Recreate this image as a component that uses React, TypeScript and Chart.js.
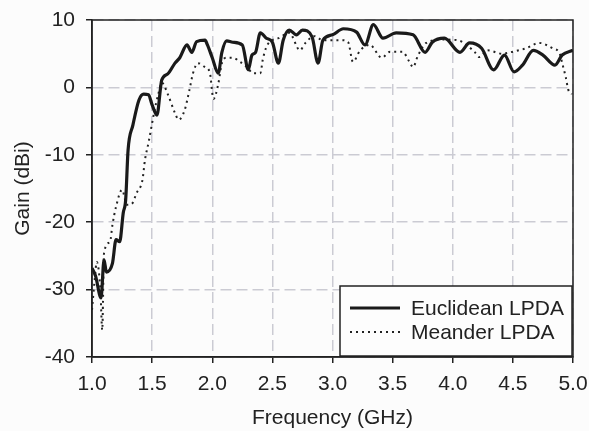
import React, { useEffect, useRef } from 'react';
import { Chart, registerables } from 'chart.js';

Chart.register(...registerables);

// Euclidean LPDA (solid)
const euclidFreq = [
  1.0, 1.03, 1.075, 1.1, 1.12, 1.17, 1.2, 1.23, 1.26, 1.28, 1.3, 1.34, 1.39, 1.43, 1.47, 1.5, 1.54,
  1.58, 1.63, 1.69, 1.73, 1.79, 1.83, 1.87, 1.94, 1.96, 2.0, 2.05, 2.08, 2.12, 2.17, 2.25, 2.3,
  2.33, 2.36, 2.4, 2.45, 2.5, 2.55, 2.59, 2.64, 2.7, 2.75, 2.83, 2.88, 2.92, 3.0, 3.09, 3.2, 3.27,
  3.34, 3.42, 3.53, 3.67, 3.77, 3.83, 3.93, 4.06, 4.14, 4.24, 4.34, 4.43, 4.51, 4.58, 4.67, 4.75,
  4.85, 4.91, 5.0,
];
const euclidGain = [
  -26.8, -28.0, -31.2, -25.6, -27.4, -26.1, -22.6, -22.9, -18.6, -16.7, -9.3, -5.6, -1.9, -1.0, -1.1, -2.6, -4.1,
  1.1, 2.0, 3.6, 4.4, 6.3, 5.2, 6.8, 7.0, 6.3, 4.4, 2.1, 5.2, 6.9, 6.7, 6.3, 2.6,
  4.8, 5.2, 8.1, 7.3, 6.7, 3.6, 7.0, 8.5, 7.8, 8.5, 7.5, 3.6, 7.0, 7.8, 8.7, 8.2, 6.3,
  9.3, 7.3, 8.1, 7.8, 5.2, 6.7, 7.3, 5.2, 6.6, 5.8, 2.6, 4.8, 2.3, 3.3, 5.5, 4.8,
  3.3, 4.8, 5.5,
];

// Meander LPDA (dotted)
const meanderFreq = [
  1.0, 1.02, 1.04, 1.07, 1.085, 1.1, 1.15, 1.17, 1.2, 1.25, 1.29, 1.33, 1.37, 1.42, 1.44, 1.47, 1.5,
  1.52, 1.55, 1.58, 1.63, 1.69, 1.72, 1.77, 1.81, 1.84, 1.88, 1.94, 1.98, 2.01, 2.05, 2.08, 2.12,
  2.17, 2.23, 2.29, 2.34, 2.4, 2.42, 2.45, 2.5, 2.55, 2.64, 2.73, 2.77, 2.85, 2.92, 3.02, 3.08,
  3.13, 3.17, 3.23, 3.31, 3.41, 3.48, 3.58, 3.64, 3.67, 3.71, 3.78, 3.92, 4.04, 4.18, 4.22, 4.29,
  4.41, 4.5, 4.61, 4.72, 4.83, 4.89, 4.91, 4.94, 4.96, 4.99,
];
const meanderGain = [
  -33.0, -29.0, -25.9, -30.1, -36.0, -24.6, -22.9, -20.4, -17.7, -15.2, -17.4, -17.3, -15.7, -13.7, -10.8, -8.2, -5.3,
  -3.4, -1.1, 0.7, -1.0, -3.8, -4.8, -3.4, -0.4, 2.1, 3.6, 3.0, 2.2, -1.7, 0.5, 3.6, 4.4,
  4.4, 3.8, 3.0, 2.1, 2.1, 4.1, 6.0, 7.0, 7.3, 8.1, 5.5, 6.5, 7.6, 7.0, 7.0, 7.0,
  6.7, 3.8, 5.5, 6.3, 4.4, 5.3, 5.3, 3.8, 3.0, 4.7, 6.6, 7.1, 7.0, 5.3, 4.5, 5.5,
  5.0, 5.3, 5.8, 6.6, 5.8, 5.0, 3.6, 1.5, -0.3, -1.0,
];

const seriesLabels = ['Euclidean LPDA', 'Meander LPDA'];
const xTitle = 'Frequency (GHz)';
const yTitle = 'Gain (dBi)';
const xMin = 1, xMax = 5, xStep = 0.5;
const yMin = -40, yMax = 10, yStep = 10;

const FONT = '"Liberation Sans", Arial, sans-serif';
const FSIZE = 21;
const TEXT = '#222';

export default function App() {
  const ref = useRef<HTMLCanvasElement>(null);

  useEffect(() => {
    if (!ref.current) return;
    const framePlugin = {
      id: 'frameLegend',
      beforeDraw(chart: any) {
        const { ctx, width, height } = chart;
        ctx.save();
        ctx.fillStyle = '#fcfcfc';
        ctx.fillRect(0, 0, width, height);
        ctx.restore();
      },
      afterDraw(chart: any) {
        const { ctx, chartArea: a } = chart;
        ctx.save();
        ctx.setLineDash([]);
        ctx.strokeStyle = '#222';
        ctx.lineWidth = 1.5;
        ctx.strokeRect(a.left, a.top, a.right - a.left, a.bottom - a.top);
        // legend box
        const bw = 232, bh = 70;
        const bx = a.right - 233, by = a.bottom - 71;
        ctx.fillStyle = '#fdfdfd';
        ctx.fillRect(bx, by, bw, bh);
        ctx.strokeRect(bx, by, bw, bh);
        const rows = [by + 22, by + 46];
        chart.data.datasets.forEach((ds: any, i: number) => {
          const y = rows[i];
          ctx.beginPath();
          ctx.strokeStyle = ds.borderColor;
          ctx.lineWidth = ds.borderWidth;
          ctx.setLineDash(ds.borderDash || []);
          ctx.moveTo(bx + 10, y);
          ctx.lineTo(bx + 60, y);
          ctx.stroke();
          ctx.setLineDash([]);
          ctx.fillStyle = TEXT;
          ctx.font = `${FSIZE}px ${FONT}`;
          ctx.textBaseline = 'middle';
          ctx.textAlign = 'left';
          ctx.fillText(ds.label, bx + 71, y + 1);
        });
        ctx.restore();
      },
    };

    const chart = new Chart(ref.current, {
      type: 'line',
      data: {
        datasets: [
          {
            label: seriesLabels[0],
            data: euclidFreq.map((f, i) => ({ x: f, y: euclidGain[i] })),
            borderColor: '#1a1a1a',
            borderWidth: 3.2,
            pointRadius: 0,
            cubicInterpolationMode: 'monotone',
          },
          {
            label: seriesLabels[1],
            data: meanderFreq.map((f, i) => ({ x: f, y: meanderGain[i] })),
            borderColor: '#222',
            borderWidth: 2,
            borderDash: [2, 4],
            pointRadius: 0,
            cubicInterpolationMode: 'monotone',
          },
        ],
      },
      options: {
        animation: false,
        responsive: false,
        maintainAspectRatio: false,
        layout: { padding: { top: 20, right: 16, left: 0, bottom: 0 } },
        plugins: { legend: { display: false }, tooltip: { enabled: false } },
        scales: {
          x: {
            type: 'linear',
            min: xMin,
            max: xMax,
            ticks: {
              stepSize: xStep,
              callback: (v: any) => Number(v).toFixed(1),
              font: { family: FONT, size: FSIZE },
              color: TEXT,
              padding: 9,
              maxRotation: 0,
              autoSkip: false,
            },
            grid: { color: '#cbcbd3', lineWidth: 1.5, tickLength: 6, tickColor: '#222', tickWidth: 1.5 },
            border: { dash: [11, 5], color: '#222', width: 1.5 },
            title: {
              display: true,
              text: xTitle,
              font: { family: FONT, size: FSIZE },
              color: TEXT,
              padding: { top: 0, bottom: 0 },
            },
            afterFit: (s: any) => { s.height = 74; s.paddingRight = 16; s.paddingLeft = 0; },
          },
          y: {
            min: yMin,
            max: yMax,
            ticks: {
              stepSize: yStep,
              font: { family: FONT, size: FSIZE },
              color: TEXT,
              padding: 11,
            },
            grid: { color: '#cbcbd3', lineWidth: 1.5, tickLength: 6, tickColor: '#222', tickWidth: 1.5 },
            border: { dash: [11, 5], color: '#222', width: 1.5 },
            title: {
              display: true,
              text: yTitle,
              font: { family: FONT, size: FSIZE },
              color: TEXT,
              padding: { top: 11, bottom: 0 },
            },
            afterFit: (s: any) => { s.width = 92; s.paddingTop = 20; s.paddingBottom = 0; },
          },
        },
      },
      plugins: [framePlugin],
    } as any);
    return () => chart.destroy();
  }, []);

  return (
    <div style={{ position: 'fixed', left: 0, top: 0, width: 589, height: 431, background: '#fcfcfc' }}>
      <canvas ref={ref} width={589} height={431} style={{ display: 'block', width: 589, height: 431 }} />
    </div>
  );
}
